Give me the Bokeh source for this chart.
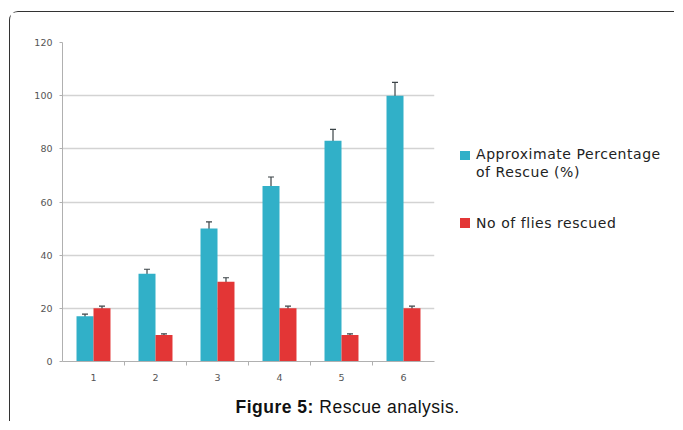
from bokeh.plotting import figure
from bokeh.models import (ColumnDataSource, Whisker, TeeHead, FixedTicker, Range1d, Div)
from bokeh.layouts import row, column
from bokeh.transform import dodge
from bokeh.embed import file_html
from bokeh.resources import INLINE

# ---- data ----
categories = [1, 2, 3, 4, 5, 6]
tick_labels = ["1", "2", "3", "4", "5", "6"]
rescue_pct = [17, 33, 50, 66, 83, 100]
rescue_pct_err = [0.8, 1.7, 2.5, 3.4, 4.3, 5.0]
flies_rescued = [20, 10, 30, 20, 10, 20]
flies_rescued_err = [0.8, 0.4, 1.5, 0.8, 0.4, 0.8]
y_ticks = [0, 20, 40, 60, 80, 100, 120]
series_names = ["Approximate Percentage<br>of Rescue (%)", "No of flies rescued"]
caption_bold = "Figure 5:"
caption_text = "Rescue analysis."

BLUE = "#31b0c8"
RED = "#e33636"
ERR = "#3b4347"

src = ColumnDataSource(dict(
    x=categories,
    blue=rescue_pct,
    blue_up=[v + e for v, e in zip(rescue_pct, rescue_pct_err)],
    blue_lo=[v - e for v, e in zip(rescue_pct, rescue_pct_err)],
    red=flies_rescued,
    red_up=[v + e for v, e in zip(flies_rescued, flies_rescued_err)],
    red_lo=[v - e for v, e in zip(flies_rescued, flies_rescued_err)],
))

p = figure(frame_width=372, frame_height=319,
           x_range=Range1d(0.5, 6.5), y_range=Range1d(0, 120),
           output_backend="svg", toolbar_location=None,
           min_border_left=52, min_border_right=10,
           min_border_top=30, min_border_bottom=30)
p.outline_line_color = None
p.background_fill_color = "white"
p.border_fill_color = "white"

bw = 0.274
off = 0.137
p.vbar(x=dodge("x", -off), top="blue", width=bw, source=src,
       fill_color=BLUE, line_color=None)
p.vbar(x=dodge("x", off), top="red", width=bw, source=src,
       fill_color=RED, line_color=None)

for base, up, lo in [(dodge("x", -off), "blue_up", "blue_lo"),
                     (dodge("x", off), "red_up", "red_lo")]:
    w = Whisker(base=base, upper=up, lower=lo, source=src,
                line_color=ERR, line_width=1.2)
    w.upper_head = TeeHead(size=6, line_color=ERR, line_width=1.2)
    w.lower_head = TeeHead(size=6, line_color=ERR, line_width=1.2)
    p.add_layout(w)

# grid & axes
p.xgrid.visible = False
p.ygrid.grid_line_color = "#d3d3d3"
p.ygrid.grid_line_width = 1.3
p.ygrid.ticker = FixedTicker(ticks=y_ticks)

p.xaxis.ticker = FixedTicker(ticks=categories,
                             minor_ticks=[c + 0.5 for c in categories[:-1]])
p.xaxis.major_label_overrides = {c: t for c, t in zip(categories, tick_labels)}
p.xaxis.major_tick_line_color = None
p.xaxis.minor_tick_in = 0
p.xaxis.minor_tick_out = 4
p.xaxis.minor_tick_line_color = "#b0b0b0"
p.xaxis.axis_line_color = "#b0b0b0"
p.xaxis.major_label_standoff = 6

p.yaxis.ticker = FixedTicker(ticks=y_ticks)
p.yaxis.major_tick_in = 0
p.yaxis.major_tick_out = 3
p.yaxis.major_tick_line_color = "#b0b0b0"
p.yaxis.minor_tick_line_color = None
p.yaxis.axis_line_color = "#b0b0b0"
p.yaxis.major_label_standoff = 7

for ax in (p.xaxis, p.yaxis):
    ax.major_label_text_font = "DejaVu Sans"
    ax.major_label_text_font_size = "9.5px"
    ax.major_label_text_color = "#555555"

# legend as HTML
txt_css = ("position:absolute; font-family:'DejaVu Sans'; font-size:14px; "
           "letter-spacing:0.55px; line-height:18px; color:#222; white-space:nowrap;")
legend_html = (
    '<div style="position:relative; width:230px; height:379px;">'
    f'<div style="position:absolute; left:16px; top:139px; width:10px; height:9px; background:{BLUE};"></div>'
    f'<div style="{txt_css} left:32px; top:133.5px;">{series_names[0]}</div>'
    f'<div style="position:absolute; left:16px; top:206.5px; width:10px; height:10px; background:{RED};"></div>'
    f'<div style="{txt_css} left:32px; top:202px;">{series_names[1]}</div>'
    '</div>'
)
legend_div = Div(text=legend_html, width=230, height=379, margin=0)

caption_html = (
    '<div style="position:relative; width:664px; height:30px;">'
    '<div style="position:absolute; left:225.5px; top:6.5px; white-space:nowrap; '
    "font-family:'Liberation Sans'; font-size:17.5px; letter-spacing:0.5px; "
    "line-height:20px; color:#111;\">"
    f'<b>{caption_bold}</b> {caption_text}</div></div>'
)
caption_div = Div(text=caption_html, width=664, height=30, margin=0)

layout = column(row(p, legend_div), caption_div)
layout.styles = {"margin-left": "9px", "margin-top": "10.5px",
                 "border-top": "1.5px solid #333", "border-left": "1.5px solid #333",
                 "border-top-left-radius": "9px"}

open("out.html", "w").write(file_html(layout, INLINE))
